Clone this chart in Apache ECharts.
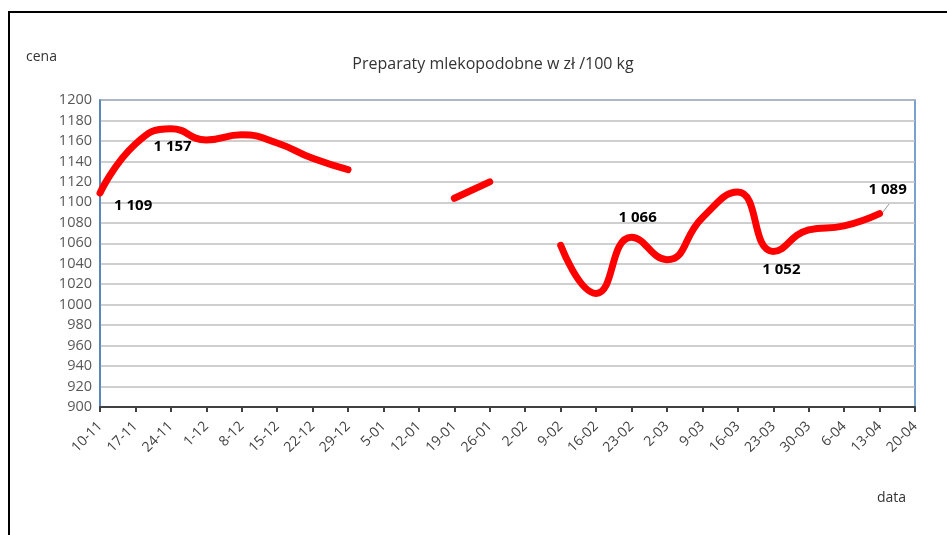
<!DOCTYPE html>
<html>
<head>
<meta charset="utf-8">
<script src="https://cdn.jsdelivr.net/npm/echarts@6/dist/echarts.min.js"></script>
<style>html,body{margin:0;padding:0;background:#fff;}#c{width:947px;height:535px;}</style>
</head>
<body>
<div id="c"></div>
<script>
var categories = ["10-11","17-11","24-11","1-12","8-12","15-12","22-12","29-12","5-01","12-01","19-01","26-01","2-02","9-02","16-02","23-02","2-03","9-03","16-03","23-03","30-03","6-04","13-04","20-04"];
var prices = [1109,1157,1172,1161,1166,1158,1143,1132,null,null,1104,1120,null,1058,1011,1066,1044,1085,1110,1052,1073,1077,1089,null];
var labelledIndexes = [0,1,15,19,22];
var yTicks = {min:900, max:1200, interval:20};

var labelStyles = {
  0: {position:[15,6]},
  1: {position:[19,-4]},
  15: {position:[-12,-26]},
  19: {position:[-10,12]},
  22: {position:[-10,-30]}
};

function fmtThousands(v){var s=String(v);return s.length>3? s.slice(0,s.length-3)+' '+s.slice(-3):s;}

var seriesData = prices.map(function(v,i){
  if (labelledIndexes.indexOf(i) >= 0 && v != null) {
    var ls = labelStyles[i];
    var lab = {show:true, color:'#000', fontWeight:'bold', fontSize:15, fontFamily:'Open Sans, sans-serif',
      formatter:function(p){return fmtThousands(p.value);}};
    for (var k in ls) lab[k]=ls[k];
    return {value:v, label:lab};
  }
  return v;
});

var chart = echarts.init(document.getElementById('c'));
chart.setOption({
  animation:false,
  backgroundColor:'#fff',
  graphic:[
    {type:'rect', shape:{x:9,y:12,width:960,height:540}, style:{fill:'none', stroke:'#000', lineWidth:2}, silent:true},
    {type:'text', left:26, top:50, style:{text:'cena', fontSize:14, fontFamily:'Open Sans, sans-serif', fill:'#333'}},
    {type:'text', left:877, top:491, style:{text:'data', fontSize:14, fontFamily:'Open Sans, sans-serif', fill:'#333'}},
    {type:'line', shape:{x1:883,y1:212,x2:889,y2:204}, style:{stroke:'#999', lineWidth:1}, silent:true, z:5}
  ],
  title:{text:'Preparaty mlekopodobne w zł /100 kg', left:488, textAlign:'center', top:51,
    textStyle:{fontSize:16, fontWeight:500, color:'#333', fontFamily:'Open Sans, sans-serif'}},
  grid:{left:100, top:100, right:32, bottom:128, show:true, borderColor:'#4f81bd', borderWidth:1.5, backgroundColor:'transparent'},
  xAxis:{type:'category', data:categories, boundaryGap:false,
    axisLine:{show:true, lineStyle:{color:'#404040', width:2}},
    axisTick:{show:true, alignWithLabel:true, length:5, lineStyle:{color:'#404040', width:2}},
    axisLabel:{rotate:45, interval:0, fontSize:14, color:'#404040', fontFamily:'Open Sans, sans-serif', margin:17},
    splitLine:{show:false}},
  yAxis:{type:'value', min:yTicks.min, max:yTicks.max, interval:yTicks.interval,
    axisLine:{show:true, lineStyle:{color:'#4f81bd', width:1.5}},
    axisTick:{show:false},
    axisLabel:{fontSize:14.5, color:'#595959', fontFamily:'Open Sans, sans-serif', margin:8, formatter:function(v){return String(v);}},
    splitLine:{show:true, lineStyle:{color:'#bfbfbf', width:1.5}}},
  series:[{type:'line', data:seriesData, smooth:0.5, connectNulls:false, showSymbol:true, symbol:'circle', symbolSize:2,
    itemStyle:{color:'rgba(255,0,0,0)', borderWidth:0},
    lineStyle:{color:'#ff0000', width:7, cap:'round'},
    labelLayout:{hideOverlap:false},
    labelLine:{show:false},
    emphasis:{disabled:true}}]
});
</script>
</body>
</html>
